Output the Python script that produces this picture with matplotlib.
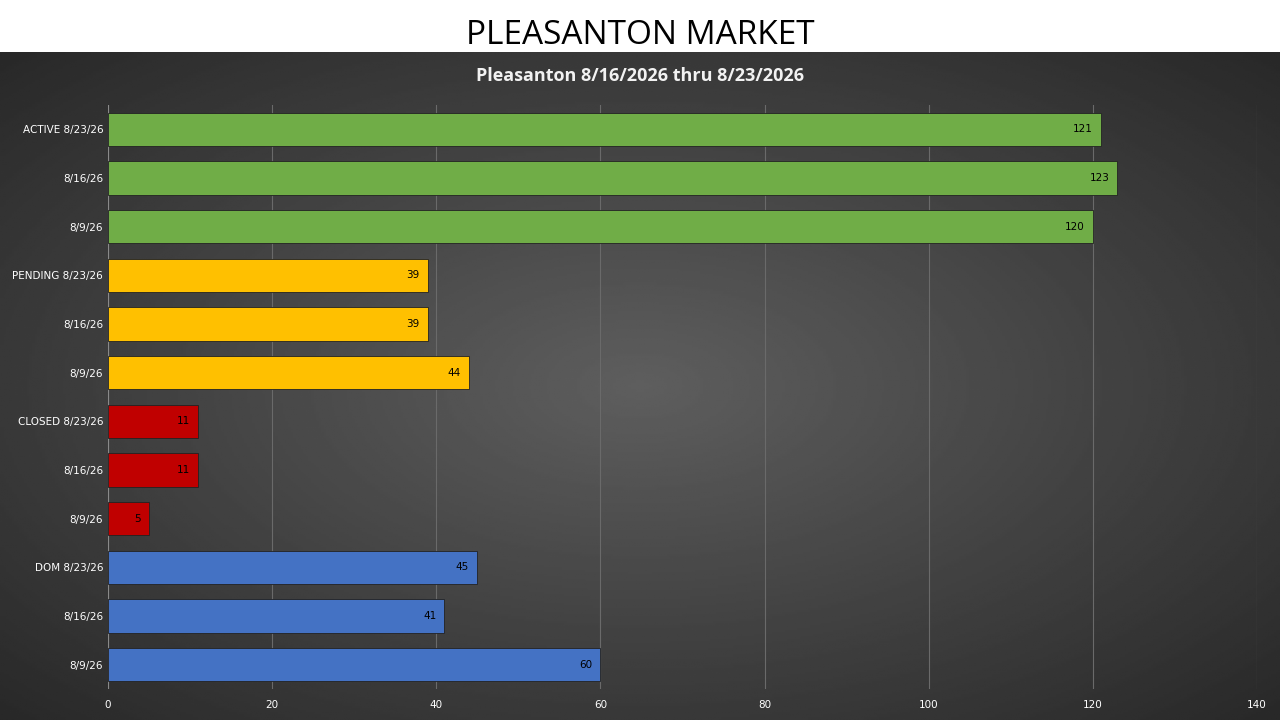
import matplotlib
matplotlib.use("Agg")
import matplotlib.pyplot as plt
import numpy as np

labels = ["ACTIVE 8/23/26", "8/16/26", "8/9/26",
          "PENDING 8/23/26", "8/16/26", "8/9/26",
          "CLOSED 8/23/26", "8/16/26", "8/9/26",
          "DOM 8/23/26", "8/16/26", "8/9/26"]
values = [121, 123, 120, 39, 39, 44, 11, 11, 5, 45, 41, 60]
colors = ["#70ad47"] * 3 + ["#ffc000"] * 3 + ["#c00000"] * 3 + ["#4472c4"] * 3
xticks = [0, 20, 40, 60, 80, 100, 120, 140]

fig = plt.figure(figsize=(12.8, 7.2), dpi=100)
fig.patch.set_facecolor("white")

# dark gradient panel
bg = fig.add_axes([0, 0, 1, 668 / 720])
yy, xx = np.mgrid[-1:1:300j, -1:1:500j]
r = np.sqrt(xx**2 + yy**2)
img = 0.37 - 0.21 * np.clip(r / 1.4, 0, 1)
bg.imshow(img, cmap="gray", vmin=0, vmax=1, aspect="auto", extent=[0, 1, 0, 1])
bg.axis("off")

fig.text(0.5, 1 - 35 / 720, "PLEASANTON MARKET", ha="center", va="center",
         fontsize=24, color="black", family="Open Sans")
fig.text(0.5, 1 - 76 / 720, "Pleasanton 8/16/2026 thru 8/23/2026", ha="center",
         va="center", fontsize=13, color="#f2f2f2", fontweight="bold", family="Open Sans")

ax = fig.add_axes([108 / 1280, 1 - 689 / 720, (1257 - 108) / 1280, (689 - 105) / 720])
ax.set_facecolor("none")
y = np.arange(len(values))
ax.barh(y, values, height=0.68, color=colors, edgecolor="#222222", linewidth=0.6, zorder=3)
for yi, v in zip(y, values):
    ax.text(v - 1.0, yi, str(v), ha="right", va="center", fontsize=7.5, color="black", zorder=4)
ax.set_xlim(0, 140)
ax.set_ylim(len(values) - 0.5, -0.5)
ax.set_xticks(xticks)
ax.set_yticks(y)
ax.set_yticklabels(labels)
ax.tick_params(colors="white", labelsize=7.5, length=0)
ax.tick_params(axis="x", pad=8)
ax.grid(axis="x", color="#6a6a6a", linewidth=0.8, zorder=0)
for s in ax.spines.values():
    s.set_visible(False)
ax.axvline(0, color="#8a8a8a", linewidth=0.8, zorder=2)

fig.savefig("out.png", dpi=100)
